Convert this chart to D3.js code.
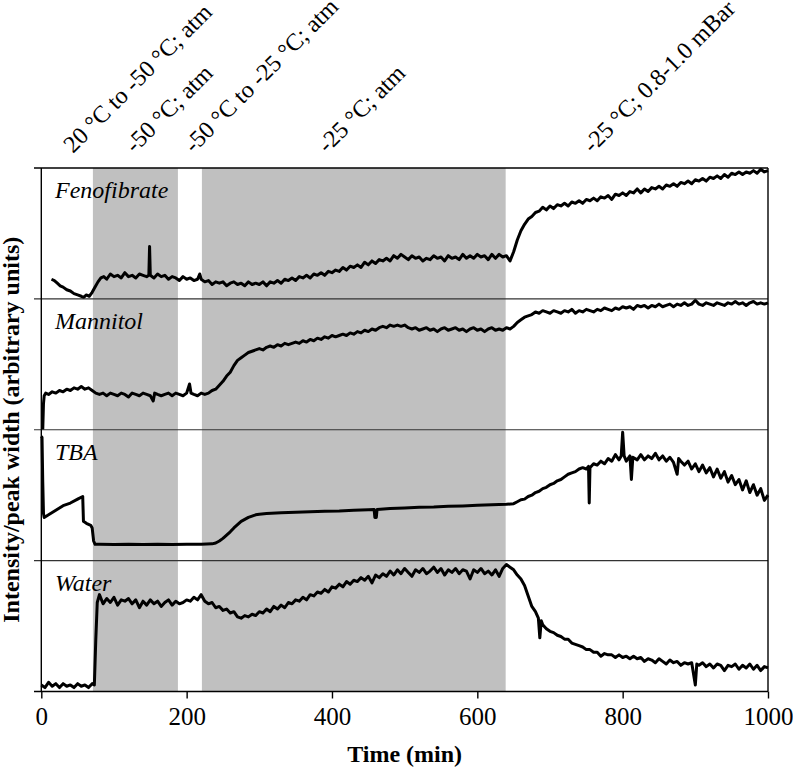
<!DOCTYPE html>
<html>
<head>
<meta charset="utf-8">
<script src="https://cdn.jsdelivr.net/npm/d3@7/dist/d3.min.js"></script>
<style>
  html, body { margin: 0; padding: 0; background: #fff; }
  svg { display: block; }
  text { font-family: "Liberation Serif", "Times New Roman", serif; fill: #000; }
</style>
</head>
<body>
<svg id="chart" width="793" height="773"></svg>
<script>
// ---------------- DATA ----------------
const panelNames = ["Fenofibrate", "Mannitol", "TBA", "Water"];
const xTicks = [0, 200, 400, 600, 800, 1000];
const shadeStart = [71, 221];
const shadeEnd = [188, 639];
const phaseLabels = ["20 \u00B0C to -50 \u00B0C; atm", "-50 \u00B0C; atm", "-50 \u00B0C to -25 \u00B0C; atm", "-25 \u00B0C; atm", "-25 \u00B0C; 0.8-1.0 mBar"];
const phaseLabelTimes = [34, 119, 200, 384, 749];

// [time (min), intensity/peak width (arbitrary units, 0-100 per panel)]
const fenofibrate = [[14,15],[18,14],[22,12],[26,10],[30,9],[35,7],[40,6],[45,4],[50,3],[55,2],[58,1],[62,3],[66,2],[70,5],[74,9],[78,13],[82,16],[86,17],[90,15],[95,19],[100,17],[105,18],[110,16],[115,20],[120,17],[125,18],[130,16],[135,19],[140,18],[145,17],[148,18],[149,40],[150,18],[155,16],[160,19],[165,17],[170,18],[175,15],[180,17],[185,16],[190,14],[195,17],[200,15],[205,16],[210,14],[215,15],[218,19],[220,15],[225,13],[230,14],[235,11],[240,13],[245,12],[250,13],[255,10],[260,12],[265,13],[270,11],[275,12],[280,10],[285,13],[290,11],[295,12],[300,11],[305,13],[310,10],[315,13],[320,12],[325,14],[330,12],[335,15],[340,14],[345,16],[350,14],[355,17],[360,16],[365,18],[370,16],[375,19],[380,18],[385,20],[390,18],[395,21],[400,20],[405,22],[410,21],[415,24],[420,22],[425,25],[430,24],[435,26],[440,24],[445,28],[450,26],[455,29],[460,27],[465,30],[470,29],[475,31],[480,29],[485,33],[490,31],[495,34],[500,32],[505,30],[510,33],[515,31],[520,32],[525,29],[530,31],[535,30],[540,33],[545,31],[550,32],[555,29],[560,33],[565,31],[570,32],[575,30],[580,34],[585,31],[590,33],[595,31],[600,34],[605,32],[610,33],[615,30],[620,34],[625,31],[630,34],[635,32],[640,33],[645,29],[650,36],[655,45],[660,52],[665,57],[670,61],[675,63],[680,66],[685,67],[690,70],[695,68],[700,71],[705,69],[710,72],[715,71],[720,73],[725,71],[730,74],[735,73],[740,75],[745,73],[750,76],[755,75],[760,77],[765,75],[770,78],[775,77],[780,79],[785,76],[790,80],[795,79],[800,81],[805,79],[810,82],[815,81],[820,84],[825,81],[830,84],[835,82],[840,85],[845,84],[850,86],[855,84],[860,87],[865,86],[870,88],[875,86],[880,89],[885,88],[890,90],[895,88],[900,91],[905,90],[910,92],[915,90],[920,93],[925,92],[930,94],[935,92],[940,95],[945,93],[950,96],[955,95],[960,97],[965,95],[970,97],[975,96],[980,98],[985,96],[990,99],[995,97],[1000,98]];

const mannitol = [[2,0],[3,20],[4,26],[6,28],[10,27],[15,29],[20,28],[25,30],[30,29],[35,31],[40,30],[45,32],[50,31],[55,33],[60,31],[65,32],[70,30],[75,28],[80,27],[85,28],[90,26],[95,28],[100,27],[105,26],[110,28],[115,27],[120,25],[125,28],[130,27],[135,26],[140,28],[145,27],[150,26],[154,22],[156,28],[160,27],[165,26],[170,27],[175,28],[180,26],[185,28],[190,27],[195,26],[200,28],[204,35],[206,28],[210,27],[215,26],[220,28],[225,27],[230,28],[235,30],[240,31],[245,34],[250,37],[255,41],[260,44],[265,49],[270,53],[275,55],[280,57],[285,59],[290,60],[295,61],[300,62],[305,61],[310,63],[315,64],[320,63],[325,65],[330,64],[335,66],[340,65],[345,66],[350,67],[355,66],[360,68],[365,67],[370,69],[375,68],[380,70],[385,69],[390,71],[395,70],[400,72],[405,71],[410,72],[415,73],[420,72],[425,74],[430,73],[435,75],[440,74],[445,76],[450,75],[455,77],[460,76],[465,78],[470,79],[475,78],[480,80],[485,79],[490,80],[495,79],[500,80],[505,78],[510,77],[515,78],[520,76],[525,77],[530,78],[535,76],[540,77],[545,75],[550,77],[555,78],[560,76],[565,77],[570,78],[575,76],[580,77],[585,75],[590,77],[595,78],[600,76],[605,77],[610,75],[615,77],[620,78],[625,76],[630,77],[635,76],[640,78],[645,77],[650,79],[655,82],[660,84],[665,86],[670,87],[675,88],[680,90],[685,89],[690,91],[695,90],[700,89],[705,91],[710,90],[715,89],[720,91],[725,90],[730,92],[735,89],[740,91],[745,90],[750,92],[755,91],[760,90],[765,92],[770,91],[775,93],[780,92],[785,91],[790,93],[795,92],[800,94],[805,93],[810,94],[815,92],[820,95],[825,94],[830,95],[835,93],[840,95],[845,94],[850,96],[855,94],[860,95],[865,96],[870,94],[875,96],[880,95],[885,97],[890,95],[895,96],[900,99],[905,96],[910,95],[915,97],[920,96],[925,95],[930,97],[935,96],[940,95],[945,97],[950,96],[955,98],[960,96],[965,97],[970,95],[975,97],[980,98],[985,96],[990,97],[995,96],[1000,97]];

const tba = [[0,95],[1,94],[2,60],[3,36],[4,33],[10,35],[20,38.5],[30,42],[40,44],[50,47],[57,49],[58,30],[62,28.5],[68,27],[70,25],[72,15],[74,12.5],[80,12.5],[100,12.3],[120,12.5],[140,12.4],[160,12.6],[180,12.4],[200,12.5],[220,12.6],[235,12.8],[240,13.5],[245,15],[250,17],[255,19.5],[260,22],[265,25],[270,27.5],[275,30],[280,31.5],[285,33],[290,34],[295,35],[300,35.5],[310,36],[330,36.5],[350,37],[370,37.3],[390,37.8],[410,38],[430,38.5],[450,38.8],[458,39],[459,33],[461,33],[462,39],[480,39.8],[500,40.3],[520,40.8],[540,41],[560,41.5],[580,41.8],[600,42.3],[620,42.6],[640,43],[650,43.5],[655,45],[660,46.5],[665,47],[670,49],[675,50],[680,52],[685,53],[690,55],[695,56],[700,58],[705,59],[710,61],[715,62],[720,64],[725,66],[730,67],[735,68],[740,70],[745,71],[750,70],[753,72],[754,44],[755,71],[760,74],[765,73],[770,76],[775,74],[780,78],[785,76],[790,81],[795,77],[798,80],[800,98],[802,80],[805,76],[810,80],[812,62],[814,79],[820,77],[825,81],[830,77],[835,80],[840,78],[845,82],[850,77],[855,80],[860,76],[865,79],[870,75],[875,66],[877,78],[880,76],[885,73],[890,76],[895,70],[900,74],[905,68],[910,73],[915,67],[920,71],[925,64],[930,70],[935,63],[940,68],[945,60],[950,65],[955,58],[960,62],[965,54],[970,61],[975,52],[980,58],[985,50],[990,55],[995,46],[1000,50]];

const water = [[0,5],[5,3],[10,7],[15,4],[20,6],[25,3],[30,6],[35,4],[40,5],[45,3],[50,6],[55,4],[60,5],[65,3],[70,6],[73,5],[75,40],[77,68],[80,74],[85,67],[90,71],[95,68],[100,72],[105,66],[110,70],[115,69],[120,71],[125,67],[130,70],[135,64],[140,69],[145,66],[150,70],[155,67],[160,69],[165,65],[170,68],[175,70],[180,66],[185,69],[190,67],[195,68],[200,70],[205,69],[210,72],[215,70],[220,74],[225,69],[230,67],[235,68],[240,64],[245,65],[250,62],[255,63],[260,60],[265,61],[270,57],[275,56],[280,58],[285,57],[290,59],[295,58],[300,61],[305,60],[310,63],[315,61],[320,65],[325,63],[330,66],[335,64],[340,68],[345,67],[350,70],[355,69],[360,72],[365,70],[370,74],[375,73],[380,76],[385,75],[390,78],[395,76],[400,80],[405,79],[410,82],[415,80],[420,84],[425,82],[430,85],[435,84],[440,87],[445,85],[450,88],[455,83],[460,89],[465,87],[470,90],[475,88],[480,92],[485,89],[490,93],[495,90],[500,94],[505,91],[510,88],[515,93],[520,91],[525,94],[530,90],[535,92],[540,95],[545,91],[550,94],[555,89],[560,93],[565,91],[570,94],[575,90],[580,93],[585,92],[590,86],[595,93],[600,91],[605,94],[610,90],[615,92],[620,89],[625,93],[630,88],[635,94],[640,97],[645,95],[650,93],[655,89],[660,86],[665,81],[670,73],[675,65],[680,61],[684,56],[686,41],[688,54],[690,51],[695,48],[700,46],[705,45],[710,43],[715,42],[720,40],[725,40],[730,37],[735,36],[740,35],[745,34],[750,32],[755,32],[760,30],[765,30],[770,27],[775,29],[780,28],[785,28],[790,26],[795,28],[800,26],[805,27],[810,25],[815,27],[820,25],[825,26],[830,23],[835,25],[840,24],[845,22],[850,25],[855,23],[860,21],[865,24],[870,22],[875,23],[880,20],[885,22],[890,21],[895,22],[900,5],[902,21],[905,20],[910,22],[915,19],[920,21],[925,18],[930,21],[935,20],[940,16],[945,20],[950,19],[955,21],[960,17],[965,20],[970,18],[975,21],[980,17],[985,20],[990,16],[995,19],[1000,18]];

const seriesList = [fenofibrate, mannitol, tba, water];

// ---------------- LAYOUT ----------------
const svg = d3.select("#chart");
const plotLeft = 41.3, plotRight = 768, plotTop = 168, plotBottom = 691.5;
const nPanels = panelNames.length;
const panelH = (plotBottom - plotTop) / nPanels;
const FONT = 24;

const x = d3.scaleLinear().domain([0, 1000]).range([plotLeft, plotRight]);

// shaded phases
svg.append("g").selectAll("rect")
  .data(shadeStart.map((s, i) => [s, shadeEnd[i]]))
  .join("rect")
  .attr("x", d => x(d[0]))
  .attr("width", d => x(d[1]) - x(d[0]))
  .attr("y", plotTop)
  .attr("height", plotBottom - plotTop)
  .attr("fill", "#c0c0c0");

// series
seriesList.forEach((data, i) => {
  const top = plotTop + i * panelH;
  const y = d3.scaleLinear().domain([0, 100]).range([top + panelH, top]);
  const line = d3.line().x(d => x(d[0])).y(d => y(d[1]));
  svg.append("path")
    .datum(data)
    .attr("d", line)
    .attr("fill", "none")
    .attr("stroke", "#000")
    .attr("stroke-width", 3)
    .attr("stroke-linejoin", "round");
  svg.append("text")
    .attr("x", 55)
    .attr("y", top + 30)
    .attr("font-size", FONT)
    .attr("font-style", "italic")
    .text(panelNames[i]);
});

// frame
const frame = svg.append("g").attr("stroke", "#000").attr("stroke-width", 1.4).attr("fill", "none");
for (let i = 0; i <= nPanels; i++) {
  const yy = plotTop + i * panelH;
  frame.append("line").attr("x1", 34).attr("x2", plotRight).attr("y1", yy).attr("y2", yy)
    .attr("stroke-width", i === 0 || i === nPanels ? 1.6 : 1.2)
    .attr("stroke", i === 0 || i === nPanels ? "#000" : "#333");
}
frame.append("line").attr("x1", plotLeft).attr("x2", plotLeft).attr("y1", plotTop).attr("y2", plotBottom);
frame.append("line").attr("x1", plotRight).attr("x2", plotRight).attr("y1", plotTop).attr("y2", plotBottom);

// x axis
const xAxis = d3.axisBottom(x).tickValues(xTicks).tickSize(7).tickPadding(9).tickFormat(d3.format("d"));
const gx = svg.append("g").attr("transform", `translate(0,${plotBottom})`).call(xAxis);
gx.select(".domain").remove();
gx.selectAll(".tick line").attr("stroke", "#000").attr("stroke-width", 1.4);
gx.selectAll(".tick text")
  .attr("font-family", "'Liberation Serif', 'Times New Roman', serif")
  .attr("font-size", 25)
  .attr("fill", "#000");

// axis titles
svg.append("text")
  .attr("x", (plotLeft + plotRight) / 2)
  .attr("y", 762)
  .attr("text-anchor", "middle")
  .attr("font-size", FONT)
  .attr("font-weight", "bold")
  .text("Time (min)");

svg.append("text")
  .attr("transform", `translate(19,${(plotTop + plotBottom) / 2}) rotate(-90)`)
  .attr("text-anchor", "middle")
  .attr("font-size", FONT)
  .attr("font-weight", "bold")
  .text("Intensity/peak width (arbitrary units)");

// phase labels
svg.append("g").selectAll("text")
  .data(phaseLabels)
  .join("text")
  .attr("transform", (d, i) => `translate(${x(phaseLabelTimes[i]) + 7},154) rotate(-45)`)
  .attr("font-size", FONT)
  .text(d => d);
</script>
</body>
</html>
